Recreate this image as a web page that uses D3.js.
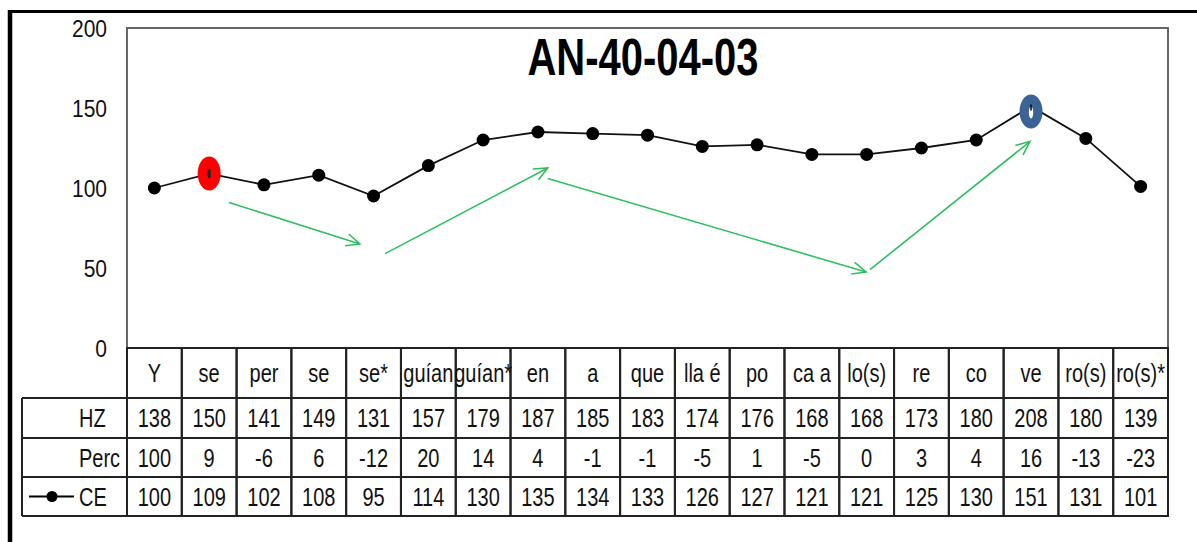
<!DOCTYPE html>
<html><head><meta charset="utf-8">
<script src="https://cdn.jsdelivr.net/npm/d3@7"></script>
<style>
html,body{margin:0;padding:0;background:#fff;}
svg{display:block;font-family:"Liberation Sans",Arial,sans-serif;}
</style></head>
<body>
<svg id="c" width="1197" height="542"></svg>
<script>
// ---- data ----
const title = "AN-40-04-03";
const categories = ["Y","se","per","se","se*","guían","guían*","en","a","que","lla é","po","ca a","lo(s)","re","co","ve","ro(s)","ro(s)*"];
const hz   = [138,150,141,149,131,157,179,187,185,183,174,176,168,168,173,180,208,180,139];
const perc = [100,9,-6,6,-12,20,14,4,-1,-1,-5,1,-5,0,3,4,16,-13,-23];
const ce   = [100,109,102,108,95,114,130,135,134,133,126,127,121,121,125,130,151,131,101];
const yTicks = [0,50,100,150,200];
const rowNames = ["HZ","Perc","CE"];
// highlighted points (category index) and colours
const highlights = [{i:1,color:"#ff0000"},{i:16,color:"#3b6393"}];
// green trend arrows: [fromIndex, fromValue, toIndex, toValue]
const arrows = [[1.36,91,3.75,65],[4.21,59,7.18,112.5],[7.18,106,12.99,47.5],[13.06,49,15.98,129]];

// ---- layout ----
const L=127, R=1168, T=28, B=348;
const rowY=[348,398,438,477,516];
const tableLeft=22;
const svg=d3.select("#c");

const x=d3.scaleBand().domain(d3.range(categories.length)).range([L,R]).padding(0);
const xi=d3.scaleLinear().domain([-0.5,categories.length-0.5]).range([L,R]);
const y=d3.scaleLinear().domain([0,200]).range([B,T]);
const cx=i=>x(i)+x.bandwidth()/2;

// outer frame
svg.append("line").attr("x1",8).attr("x2",1197).attr("y1",11.5).attr("y2",11.5).attr("stroke","#000").attr("stroke-width",3);
svg.append("line").attr("x1",10).attr("x2",10).attr("y1",10).attr("y2",542).attr("stroke","#000").attr("stroke-width",4.5);

// plot area border
svg.append("rect").attr("x",L).attr("y",T).attr("width",R-L).attr("height",B-T)
  .attr("fill","none").attr("stroke","#666").attr("stroke-width",2);

function stext(g,tx,ty,txt,opts){
  const t=g.append("text").attr("transform",`translate(${tx},${ty}) scale(1,${opts.sy||1.25})`)
    .attr("font-size",opts.size||20).attr("fill",opts.fill||"#111")
    .attr("text-anchor",opts.anchor||"middle").text(txt);
  if(opts.bold) t.attr("font-weight","bold");
  return t;
}

// y axis labels
const ga=svg.append("g");
yTicks.forEach(v=>stext(ga,107,y(v)+8.5,v,{anchor:"end",size:21,sy:1.13}));

// title
stext(svg,643,75,title,{size:40,sy:1.3,bold:true,fill:"#000"});

// table
const gt=svg.append("g");
categories.forEach((c,i)=>{
  gt.append("rect").attr("x",x(i)).attr("y",rowY[0]).attr("width",x.bandwidth()).attr("height",rowY[4]-rowY[0])
    .attr("fill","none").attr("stroke","#222").attr("stroke-width",2);
});
rowY.slice(1).forEach(yy=>gt.append("line").attr("x1",tableLeft).attr("x2",R).attr("y1",yy).attr("y2",yy).attr("stroke","#222").attr("stroke-width",2));
gt.append("line").attr("x1",tableLeft).attr("x2",tableLeft).attr("y1",rowY[1]).attr("y2",rowY[4]).attr("stroke","#222").attr("stroke-width",2);
gt.append("line").attr("x1",L).attr("x2",L).attr("y1",rowY[0]).attr("y2",rowY[4]).attr("stroke","#222").attr("stroke-width",2);

const mid=k=>(rowY[k]+rowY[k+1])/2;
categories.forEach((c,i)=>stext(gt,cx(i),mid(0)+9,c,{}));
[hz,perc,ce].forEach((arr,k)=>{
  arr.forEach((v,i)=>stext(gt,cx(i),mid(k+1)+9,v,{}));
  stext(gt,79,mid(k+1)+9,rowNames[k],{anchor:"start"});
});
// legend key in CE row
gt.append("line").attr("x1",29).attr("x2",74).attr("y1",mid(3)).attr("y2",mid(3)).attr("stroke","#000").attr("stroke-width",2);
gt.append("circle").attr("cx",52).attr("cy",mid(3)).attr("r",5.5).attr("fill","#000");

// arrows
const ag=svg.append("g").attr("stroke","#30bf5e").attr("stroke-width",1.6).attr("fill","none");
arrows.forEach(a=>{
  const x1=xi(a[0]),y1=y(a[1]),x2=xi(a[2]),y2=y(a[3]);
  ag.append("line").attr("x1",x1).attr("y1",y1).attr("x2",x2).attr("y2",y2);
  const ang=Math.atan2(y2-y1,x2-x1), len=15, sp=0.42;
  ag.append("path").attr("d",`M${x2-len*Math.cos(ang-sp)},${y2-len*Math.sin(ang-sp)}L${x2},${y2}L${x2-len*Math.cos(ang+sp)},${y2-len*Math.sin(ang+sp)}`);
});

// line series
const line=d3.line().x((d,i)=>cx(i)).y(d=>y(d));
svg.append("path").datum(ce).attr("d",line).attr("fill","none").attr("stroke","#111").attr("stroke-width",1.8);
svg.append("g").selectAll("circle").data(ce).join("circle")
  .attr("cx",(d,i)=>cx(i)).attr("cy",d=>y(d)).attr("r",6.5).attr("fill","#000");

// highlight ellipses
highlights.forEach(h=>{
  const px=cx(h.i), py=y(ce[h.i])+(h.i===16?5:0);
  svg.append("ellipse").attr("cx",px).attr("cy",py).attr("rx",11.5).attr("ry",17).attr("fill",h.color);
  if(h.i===16){
    svg.append("ellipse").attr("cx",px).attr("cy",py+1).attr("rx",2.2).attr("ry",6).attr("fill","#fff");
    svg.append("line").attr("x1",px).attr("x2",px).attr("y1",py-7).attr("y2",py-1).attr("stroke","#000").attr("stroke-width",1.5);
  } else {
    svg.append("ellipse").attr("cx",px).attr("cy",py).attr("rx",1.6).attr("ry",5).attr("fill","#222");
  }
});
</script>
</body></html>
